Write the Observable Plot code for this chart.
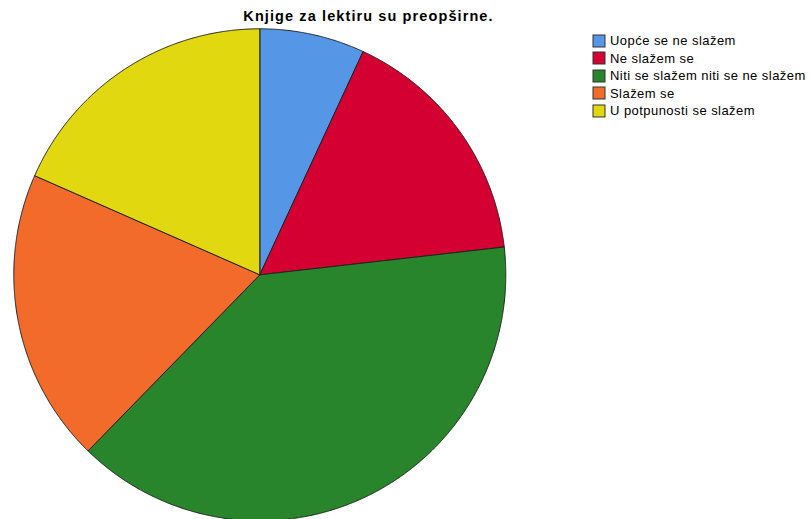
<!DOCTYPE html>
<html><head><meta charset="utf-8">
<script src="https://cdn.jsdelivr.net/npm/d3@7"></script>
<script src="https://cdn.jsdelivr.net/npm/@observablehq/plot@0.6"></script>
<style>
body{margin:0;background:#fff;}
#wrap{position:relative;width:810px;height:519px;overflow:hidden;}
#legend{position:absolute;left:593px;top:32px;}
</style></head><body><div id="wrap"><div id="chart"></div><div id="legend"></div></div>
<script>
const title = "Knjige za lektiru su preopširne.";
const categories = ["Uopće se ne slažem", "Ne slažem se", "Niti se slažem niti se ne slažem", "Slažem se", "U potpunosti se slažem"];
const percents = [6.9, 16.3, 39.1, 19.3, 18.4];
const colors = ["#5596e6", "#d50032", "#29852b", "#f26b2a", "#e1d80f"];

const cx = 259.3, cy = 274.3, r = 246;

// slice outlines built from d3.pie angles (unit circle space)
const slices = d3.pie().sort(null).value(d => d)(percents);
const pts = [];
slices.forEach((s, i) => {
  const cat = categories[i];
  pts.push({cat, x: 0, y: 0});
  const n = Math.max(2, Math.ceil((s.endAngle - s.startAngle) / 0.004));
  for (let k = 0; k <= n; k++) {
    const a = s.startAngle + (s.endAngle - s.startAngle) * k / n;
    pts.push({cat, x: Math.sin(a), y: Math.cos(a)});
  }
  pts.push({cat, x: 0, y: 0});
});

const colorScale = {domain: categories, range: colors};

const chart = Plot.plot({
  width: 810,
  height: 519,
  margin: 0,
  style: {fontFamily: "'Liberation Sans', Arial, sans-serif", background: "#fff"},
  x: {domain: [-1, 1], range: [cx - r, cx + r], axis: null},
  y: {domain: [-1, 1], range: [cy + r, cy - r], axis: null},
  color: colorScale,
  marks: [
    Plot.line(pts, {x: "x", y: "y", z: "cat", fill: "cat", stroke: "#222", strokeWidth: 1, strokeLinejoin: "round"}),
    Plot.text([title], {frameAnchor: "top-left", dx: 368, dy: 16, text: d => d, textAnchor: "middle", lineAnchor: "middle", fontWeight: "bold", fontSize: 14.5, fill: "#000"})
  ]
});
chart.querySelectorAll("text").forEach(t => t.setAttribute("letter-spacing", "1.1px"));
document.getElementById("chart").appendChild(chart);

const legend = Plot.legend({
  color: colorScale,
  legend: "swatches",
  columns: 1,
  swatchSize: 12,
  style: {fontSize: "13px", letterSpacing: "0.45px", fontFamily: "'Liberation Sans', Arial, sans-serif", color: "#000", margin: "0"}
});
document.getElementById("legend").appendChild(legend);
legend.querySelectorAll("svg").forEach(svg => {
  svg.style.overflow = "visible";
  svg.style.marginRight = "5px";
  svg.querySelectorAll("rect").forEach(rc => { rc.setAttribute("stroke", "#333"); rc.setAttribute("stroke-width", "1"); });
  const item = svg.parentElement;
  item.style.height = "17.5px";
  item.style.padding = "0";
  item.style.margin = "0";
  item.style.display = "flex";
  item.style.alignItems = "center";
});
</script></body></html>
